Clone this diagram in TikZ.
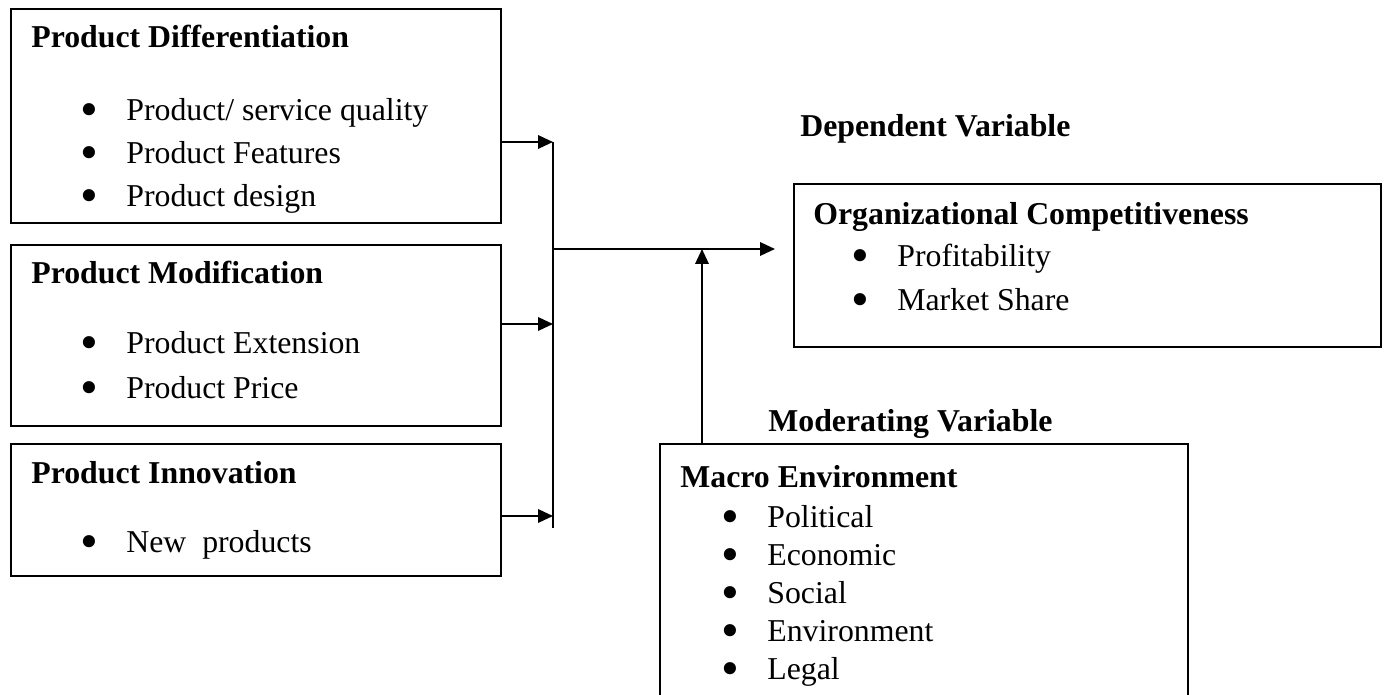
\documentclass[tikz,border=0pt]{standalone}
\usepackage{fontspec}
\setmainfont{Liberation Serif}
\usetikzlibrary{arrows.meta,positioning}
\newcommand{\bitem}[1]{\makebox[0.92cm][l]{\smash{\raisebox{-3.2pt}{\scalebox{1.6}{\textbullet}}}}#1}

\begin{document}
\begin{tikzpicture}[x=0.02cm,y=-0.02cm,
  varbox/.style={draw=black,line width=1.1pt,anchor=north west,inner sep=0pt},
  head/.style={anchor=base west,inner sep=0pt,font=\fontsize{18.1}{22}\selectfont\bfseries},
  item/.style={anchor=base west,inner sep=0pt,font=\fontsize{18.1}{22}\selectfont},
  link/.style={line width=1.1pt},
  >={Triangle[length=0.3cm,width=0.27cm]}
]
\useasboundingbox (0,0) rectangle (1384,695);

% independent variables
\node[varbox,minimum width=9.8cm,minimum height=4.28cm] (pd) at (10,8) {};
\node[head] (pdh) at (31,48) {Product Differentiation};
\node[item] (pd1) at (80,121) {\bitem{Product/ service quality}};
\node[item] (pd2) at (80,164) {\bitem{Product Features}};
\node[item] (pd3) at (80,207) {\bitem{Product design}};

\node[varbox,minimum width=9.8cm,minimum height=3.62cm] (pm) at (10,244) {};
\node[head] (pmh) at (31,284) {Product Modification};
\node[item] (pm1) at (80,354) {\bitem{Product Extension}};
\node[item] (pm2) at (80,399) {\bitem{Product Price}};

\node[varbox,minimum width=9.8cm,minimum height=2.64cm] (pi) at (10,443) {};
\node[head] (pih) at (31,484) {Product Innovation};
\node[item] (pi1) at (80,553) {\bitem{New~ products}};

% dependent variable
\node[head] (dvl) at (800,137) {Dependent Variable};
\node[varbox,minimum width=11.74cm,minimum height=3.26cm] (oc) at (793,183) {};
\node[head] (och) at (813,225) {Organizational Competitiveness};
\node[item] (oc1) at (851,267) {\bitem{Profitability}};
\node[item] (oc2) at (851,311) {\bitem{Market Share}};

% moderating variable
\node[head] (mvl) at (768,432) {Moderating Variable};
\node[varbox,minimum width=10.56cm,minimum height=5.24cm] (me) at (659,443) {};
\node[head] (meh) at (680,488) {Macro Environment};
\node[item] (me1) at (721,528) {\bitem{Political}};
\node[item] (me2) at (721,566) {\bitem{Economic}};
\node[item] (me3) at (721,604) {\bitem{Social}};
\node[item] (me4) at (721,642) {\bitem{Environment}};
\node[item] (me5) at (721,680) {\bitem{Legal}};

% connectors
\coordinate (j1) at (553,142);
\coordinate (j2) at (553,324);
\coordinate (j3) at (553,516);
\coordinate (jbot) at (553,528);
\coordinate (jmid) at (553,249);
\coordinate (jtip) at (775,249);
\coordinate (mjoin) at (702,249);
\draw[link,->] (j1 -| pd.east) -- (j1);
\draw[link,->] (j2 -| pm.east) -- (j2);
\draw[link,->] (j3 -| pi.east) -- (j3);
\draw[link] (j1) -- (jbot);
\draw[link,->] (jmid) -- (jtip);
\draw[link,->] (mjoin |- me.north) -- (mjoin);
\end{tikzpicture}
\end{document}
